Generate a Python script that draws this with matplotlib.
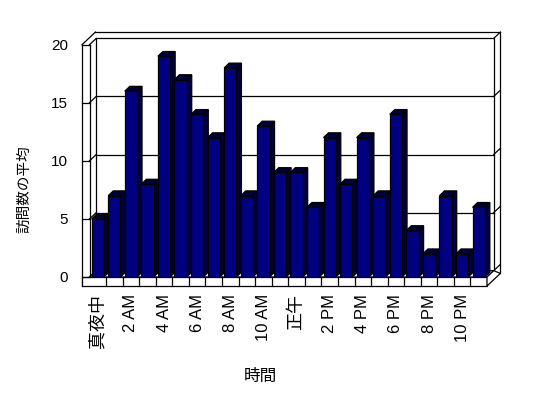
import matplotlib
matplotlib.use("Agg")
import matplotlib.pyplot as plt
from matplotlib.patches import Polygon
from matplotlib.lines import Line2D
from matplotlib.transforms import IdentityTransform
import numpy as np

plt.rcParams['font.family'] = ['Liberation Sans', 'Noto Sans CJK JP', 'DejaVu Sans']

# ---- data ----
hours = list(range(24))
visits = [5, 7, 16, 8, 19, 17, 14, 12, 18, 7, 13, 9, 9, 6, 12, 8, 12, 7, 14, 4, 2, 7, 2, 6]
tick_pos = list(range(0, 24, 2))
tick_labels = ['真夜中', '2 AM', '4 AM', '6 AM', '8 AM', '10 AM', '正午',
               '2 PM', '4 PM', '6 PM', '8 PM', '10 PM']
y_ticks = [0, 5, 10, 15, 20]
grid_vals = [5, 10, 15]
y_label = '訪問数の平均'
x_label = '時間'

# ---- layout (pixels, bottom-up) ----
W, H = 548, 398
fig = plt.figure(figsize=(W / 100, H / 100), dpi=100)
L, R, B, T = 89.5, 487.0, 121.0, 353.3
ax = fig.add_axes([L / W, B / H, (R - L) / W, (T - B) / H])
ax.set_xlim(-0.5, 23.5)
ax.set_ylim(0, 20)
for s in ax.spines.values():
    s.set_visible(False)
ax.patch.set_visible(False)

D = np.array([6.7, 6.3])      # wall depth offset
d = np.array([5.0, 4.8])      # bar depth offset
OUT_L = L - 7.5               # outer left wall face
FLOOR_BOT = B - 9.0
ID = IdentityTransform()
LW = 0.9


def px(x, y):
    return np.array(ax.transData.transform((x, y)))


def line(p, q, z=1.0):
    ax.add_line(Line2D([p[0], q[0]], [p[1], q[1]], color='black', lw=LW,
                       transform=ID, clip_on=False, zorder=z,
                       solid_capstyle='projecting'))


def poly(pts, fc, z):
    ax.add_patch(Polygon(np.array(pts), closed=True, facecolor=fc,
                         edgecolor='black', lw=LW, transform=ID,
                         clip_on=False, zorder=z, joinstyle='miter'))


# corners of front plane
f_bl = px(-0.5, 0); f_br = px(23.5, 0)
f_tl = px(-0.5, 20); f_tr = px(23.5, 20)
b_bl = f_bl + D; b_br = f_br + D; b_tl = f_tl + D; b_tr = f_tr + D

# back wall inner rectangle
poly([b_bl, b_br, b_tr, b_tl], 'white', 0.5)
# back wall outer (thickness)
o_tl = np.array([OUT_L, f_tl[1]]) + 2 * D
o_tr = b_tr + D
line(np.array([OUT_L, f_tl[1]]), o_tl)
line(o_tl, o_tr)
line(b_tr, o_tr)
o_rb = np.array([R, FLOOR_BOT]) + 2 * D
line(o_tr, o_rb)

# left wall
line(np.array([OUT_L, FLOOR_BOT]), np.array([OUT_L, f_tl[1]]))
line(np.array([OUT_L, f_tl[1]]), f_tl)
line(f_bl, f_tl)
line(f_tl, b_tl)
line(f_bl, b_bl)

# gridlines
for v in grid_vals:
    pf = px(-0.5, v)
    pb = pf + D
    line(np.array([OUT_L, pf[1]]), pf)
    line(pf, pb)
    pr = px(23.5, v) + D
    line(pb, pr)
    line(pr, pr + D)
line(b_br, b_br + D)

# floor top surface
poly([f_bl, f_br, b_br, b_bl], 'white', 1.5)
# floor front face
poly([[OUT_L, FLOOR_BOT], [R, FLOOR_BOT], [R, B], [OUT_L, B]], 'white', 1.6)
line(np.array([OUT_L, B]), f_bl, 1.7)
for k in range(1, 24):
    xk = px(k - 0.5, 0)[0]
    line(np.array([xk, FLOOR_BOT]), np.array([xk, B]), 1.7)
# floor right face
poly([[R, FLOOR_BOT], o_rb, b_br, f_br], 'white', 1.6)

# bars
bars = ax.bar(hours, visits, width=0.74, color='#000080', edgecolor='black',
              linewidth=LW)
dark = '#00003c'
for k, (rect, v) in enumerate(zip(bars.patches, visits)):
    x0 = rect.get_x(); x1 = x0 + rect.get_width()
    fl = px(x0, 0); fr = px(x1, 0); tl = px(x0, v); tr = px(x1, v)
    z = 3 + k * 0.01
    poly([fr, tr, tr + d, fr + d], dark, z)
    poly([tl, tr, tr + d, tl + d], dark, z)
    rect.set_zorder(z + 0.005)

# ticks / labels
ax.set_yticks(y_ticks)
ax.set_yticklabels([str(v) for v in y_ticks], fontsize=11)
ax.set_xticks(tick_pos)
ax.set_xticklabels(tick_labels, rotation=90, fontsize=12)
for t in ax.get_xticklabels():
    if any(ord(c) > 127 for c in t.get_text()):
        t.set_fontsize(13)
ax.tick_params(axis='y', length=0, pad=(L - 68) * 0.72)
ax.tick_params(axis='x', length=0, pad=17 * 0.72)

fig.text(24 / W, (H - 189) / H, y_label, rotation=90, ha='center', va='center',
         fontsize=10.5)
fig.text(260 / W, (H - 376) / H, x_label, ha='center', va='center', fontsize=12)

fig.savefig('out.png', dpi=100, facecolor='white')
